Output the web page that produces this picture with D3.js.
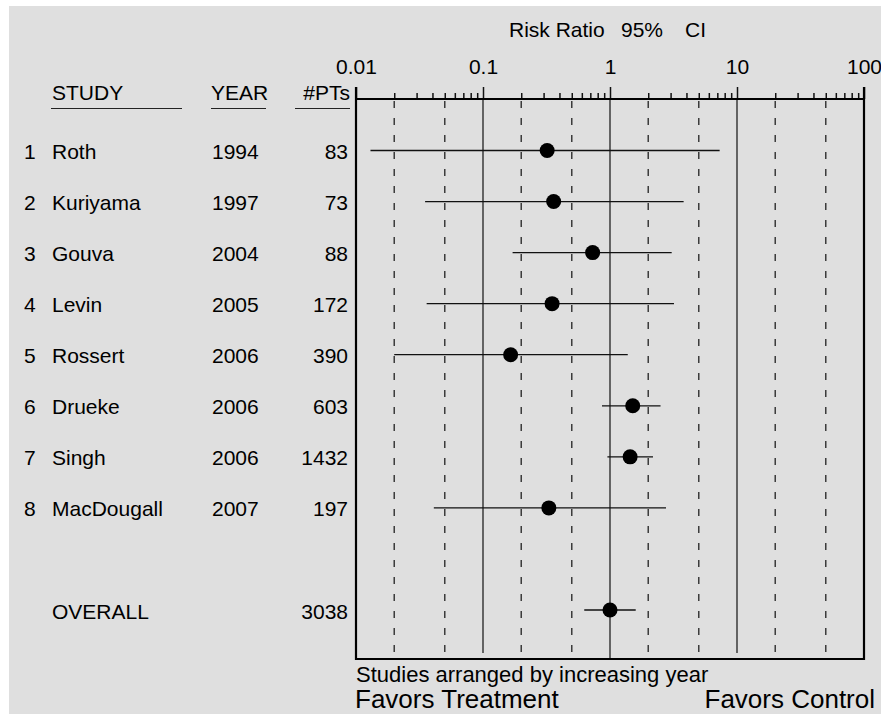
<!DOCTYPE html>
<html>
<head>
<meta charset="utf-8">
<script src="https://cdn.jsdelivr.net/npm/d3@7/dist/d3.min.js"></script>
<style>
  html, body { margin: 0; padding: 0; background: #ffffff; }
  svg { display: block; }
  text { font-family: "Liberation Sans", Arial, Helvetica, sans-serif; fill: #000; }
</style>
</head>
<body>
<svg id="chart" width="881" height="714"></svg>
<script>
// Forest plot: risk ratio with 95% CI per study, plus pooled estimate
const studyNames    = ["Roth", "Kuriyama", "Gouva", "Levin", "Rossert", "Drueke", "Singh", "MacDougall"];
const studyYears    = [1994, 1997, 2004, 2005, 2006, 2006, 2006, 2007];
const studyPatients = [83, 73, 88, 172, 390, 603, 1432, 197];
const riskRatio     = [0.32, 0.36, 0.73, 0.35, 0.165, 1.51, 1.44, 0.33];
const ciLower       = [0.013, 0.035, 0.171, 0.036, 0.020, 0.865, 0.954, 0.041];
const ciUpper       = [7.3, 3.8, 3.06, 3.19, 1.38, 2.5, 2.18, 2.76];

const overallLabel    = "OVERALL";
const overallPatients = 3038;
const overallRR       = 1.0;
const overallLower    = 0.627;
const overallUpper    = 1.594;

const majorTicks = [0.01, 0.1, 1, 10, 100];
const majorTickLabels = ["0.01", "0.1", "1", "10", "100"];
const dashedRefs = [0.02, 0.05, 0.2, 0.5, 2, 5, 20, 50];
const solidRefs = [0.1, 10];

const svg = d3.select("#chart");

// panel background
svg.append("rect")
  .attr("x", 9).attr("y", 6).attr("width", 872).attr("height", 708)
  .attr("fill", "#dfdfdf");

const x = d3.scaleLog().domain([0.01, 100]).range([356, 864]);
const y = d3.scaleLinear().domain([0, 9]).range([150.5, 610]);

const axisY = 99;
const bottomY = 659;
const textDy = 8.5;

// rows: 8 studies, then the pooled row two slots lower
const rows = studyNames.map((name, i) => ({
  num: String(i + 1), name, year: String(studyYears[i]), n: studyPatients[i],
  rr: riskRatio[i], lo: ciLower[i], hi: ciUpper[i], slot: i
}));
rows.push({ num: "", name: overallLabel, year: "", n: overallPatients,
  rr: overallRR, lo: overallLower, hi: overallUpper, slot: 9 });

// minor tick values 2..9 of each decade
const minorTicks = [];
[0.01, 0.1, 1, 10].forEach(d => { for (let k = 2; k <= 9; k++) minorTicks.push(+(d * k).toPrecision(3)); });

// dashed reference lines
svg.append("g").selectAll("line").data(dashedRefs).join("line")
  .attr("x1", d => x(d)).attr("x2", d => x(d))
  .attr("y1", axisY + 2).attr("y2", bottomY)
  .attr("stroke", "#3a3a3a").attr("stroke-width", 1.5)
  .attr("stroke-dasharray", "7,10");

// solid reference lines at 0.1 and 10
svg.append("g").selectAll("line").data(solidRefs).join("line")
  .attr("x1", d => x(d)).attr("x2", d => x(d))
  .attr("y1", axisY).attr("y2", bottomY - 6)
  .attr("stroke", "#111").attr("stroke-width", 1.2);

// line of no effect
svg.append("line")
  .attr("x1", x(1)).attr("x2", x(1))
  .attr("y1", axisY).attr("y2", bottomY)
  .attr("stroke", "#111").attr("stroke-width", 1.2);

// top axis: minor ticks
svg.append("g")
  .attr("transform", `translate(0,${axisY})`)
  .call(d3.axisTop(x).tickValues(minorTicks).tickSize(6).tickSizeOuter(0).tickFormat(""))
  .call(g => g.select(".domain").remove())
  .call(g => g.selectAll("line").attr("stroke", "#111").attr("stroke-width", 1.5));

// top axis: decade ticks and labels
svg.append("g")
  .attr("transform", `translate(0,${axisY})`)
  .call(d3.axisTop(x).tickValues(majorTicks).tickSize(12).tickSizeOuter(0).tickPadding(13.5)
    .tickFormat((d, i) => majorTickLabels[i]))
  .call(g => g.select(".domain").remove())
  .call(g => g.selectAll("line").attr("stroke", "#111").attr("stroke-width", 1.5))
  .call(g => g.selectAll("text")
    .attr("font-family", "'Liberation Sans', Arial, sans-serif")
    .attr("font-size", 21).attr("fill", "#000"));

// frame: axis line, sides and bottom
svg.append("path")
  .attr("d", `M${x(0.01)},${axisY - 12} V${bottomY} H${x(100)} V${axisY - 12} M${x(0.01)},${axisY} H${x(100)}`)
  .attr("fill", "none").attr("stroke", "#000").attr("stroke-width", 2.2);

// title
const title = svg.append("text").attr("y", 37).attr("font-size", 21).attr("text-anchor", "start");
title.append("tspan").attr("x", 509).text("Risk Ratio");
title.append("tspan").attr("x", 621).text("95%");
title.append("tspan").attr("x", 685).text("CI");

// column headers with underlines
const headers = [
  { t: "STUDY", x: 52, anchor: "start", x1: 51, x2: 182 },
  { t: "YEAR", x: 211, anchor: "start", x1: 211, x2: 266 },
  { t: "#PTs", x: 350, anchor: "end", x1: 295, x2: 350 }
];
svg.append("g").selectAll("text").data(headers).join("text")
  .attr("x", d => d.x).attr("y", 99.5).attr("text-anchor", d => d.anchor)
  .attr("font-size", 21).text(d => d.t);
svg.append("g").selectAll("line").data(headers).join("line")
  .attr("x1", d => d.x1).attr("x2", d => d.x2).attr("y1", 108.5).attr("y2", 108.5)
  .attr("stroke", "#222").attr("stroke-width", 1.2);

// row text columns
const rowText = svg.append("g").attr("font-size", 21);
rowText.selectAll(".num").data(rows).join("text").attr("class", "num")
  .attr("x", 24).attr("y", d => y(d.slot) + textDy).text(d => d.num);
rowText.selectAll(".name").data(rows).join("text").attr("class", "name")
  .attr("x", 52).attr("y", d => y(d.slot) + textDy).text(d => d.name);
rowText.selectAll(".year").data(rows).join("text").attr("class", "year")
  .attr("x", 212).attr("y", d => y(d.slot) + textDy).text(d => d.year);
rowText.selectAll(".n").data(rows).join("text").attr("class", "n")
  .attr("x", 348).attr("y", d => y(d.slot) + textDy).attr("text-anchor", "end").text(d => d.n);

// confidence intervals
svg.append("g").selectAll("line").data(rows).join("line")
  .attr("x1", d => x(d.lo)).attr("x2", d => x(d.hi))
  .attr("y1", d => y(d.slot)).attr("y2", d => y(d.slot))
  .attr("stroke", "#111").attr("stroke-width", 1.3);

// point estimates
svg.append("g").selectAll("circle").data(rows).join("circle")
  .attr("cx", d => x(d.rr)).attr("cy", d => y(d.slot)).attr("r", 7.5)
  .attr("fill", "#000");

// footer notes
svg.append("text").attr("x", 356).attr("y", 682).attr("font-size", 22)
  .text("Studies arranged by increasing year");
svg.append("text").attr("x", 355).attr("y", 708).attr("font-size", 26)
  .text("Favors Treatment");
svg.append("text").attr("x", 875).attr("y", 708).attr("font-size", 26)
  .attr("text-anchor", "end").text("Favors Control");
</script>
</body>
</html>
